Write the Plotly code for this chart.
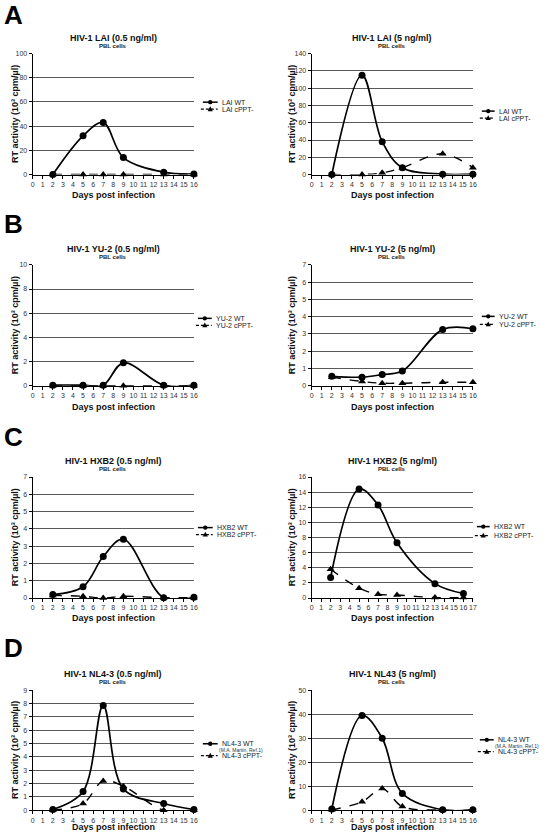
import plotly.graph_objects as go

# ---------------- data ----------------
days = [2, 5, 7, 9, 13, 16]

lai05_wt = [0, 32, 43, 14, 2, 0.5]
lai05_cppt = [0, 0, 0, 0, 0, 0]
lai5_wt = [0, 115, 38, 8, 0.5, 0.5]
lai5_cppt = [0, 0, 2, 8, 24, 8]
yu05_wt = [0.05, 0.05, 0.05, 1.9, 0.05, 0.05]
yu05_cppt = [0, 0, 0, 0, 0, 0]
yu5_wt = [0.55, 0.5, 0.65, 0.85, 3.25, 3.3]
yu5_cppt = [0.5, 0.25, 0.15, 0.15, 0.2, 0.2]
hxb05_wt = [0.2, 0.65, 2.4, 3.4, 0.02, 0.05]
hxb05_cppt = [0.15, 0.1, 0.0, 0.1, 0.02, 0.02]
hxb5_wt = [2.7, 14.4, 12.3, 7.3, 1.9, 0.6]
hxb5_cppt = [3.8, 1.3, 0.5, 0.4, 0.05, 0.05]
nl05_wt = [0.05, 1.4, 7.85, 1.6, 0.5, 0.05]
nl05_cppt = [0, 0.5, 2.2, 1.8, 0, 0]
nl5_wt = [0.5, 39.5, 30, 7, 0.2, 0.2]
nl5_cppt = [0.2, 3.5, 9, 1.5, 0, 0]

titles = ["HIV-1 LAI (0.5 ng/ml)", "HIV-1 LAI (5 ng/ml)",
          "HIV-1 YU-2 (0.5 ng/ml)", "HIV-1 YU-2 (5 ng/ml)",
          "HIV-1 HXB2 (0.5 ng/ml)", "HIV-1 HXB2 (5 ng/ml)",
          "HIV-1 NL4-3 (0.5 ng/ml)", "HIV-1 NL43 (5 ng/ml)"]
subtitle = "PBL cells"
x_title = "Days post infection"
y_title = "RT activity (10³ cpm/µl)"
wt_names = ["LAI WT", "LAI WT", "YU-2 WT", "YU-2 WT", "HXB2 WT", "HXB2 WT",
            "NL4-3 WT", "NL4-3 WT"]
wt_notes = ["", "", "", "", "", "", "(M.A. Martin, Ref.1)", "(M.A. Martin, Ref.1)"]
cppt_names = ["LAI cPPT-", "LAI cPPT-", "YU-2 cPPT-", "YU-2 cPPT-",
              "HXB2 cPPT-", "HXB2 cPPT-", "NL4-3 cPPT-", "NL4-3 cPPT-"]
wt_series = [lai05_wt, lai5_wt, yu05_wt, yu5_wt, hxb05_wt, hxb5_wt, nl05_wt, nl5_wt]
cppt_series = [lai05_cppt, lai5_cppt, yu05_cppt, yu5_cppt, hxb05_cppt, hxb5_cppt,
               nl05_cppt, nl5_cppt]
y_max = [100, 140, 10, 7, 7, 16, 9, 50]
y_step = [20, 20, 2, 1, 1, 2, 1, 10]
x_max = [16, 16, 16, 16, 16, 17, 16, 16]
panel_letters = ["A", "B", "C", "D"]

# ---------------- layout geometry (pixels) ----------------
W, H = 560, 839
FONT = "Arial, Liberation Sans, sans-serif"
cols = [(31, 194), (313, 476)]
rows = [(50, 172), (263, 385), (477, 599), (692, 813)]
xtitle_gap = [21, 21, 20, 17]
ytitle_x = [13, 293]
letter_y = [11, 222, 437, 649]
# legend: line x0, line x1, text x, row y (wt), row y (note), row y (cppt)
legend_pos = [
    (203, 218, 220, 99, None, 106),
    (485, 498, 500, 108, None, 115),
    (198, 212, 214, 317, None, 324),
    (485, 498, 500, 315, None, 323),
    (198, 213, 215, 528, None, 535),
    (480, 493, 495, 527, None, 536),
    (203, 218, 220, 746, 752, 758),
    (483, 497, 499, 742, 748, 754),
]


def fx(p):
    return p / W


def fy(p):
    return 1 - p / H


fig = go.Figure()
layout = dict(
    width=W, height=H, autosize=False,
    margin=dict(l=0, r=0, t=0, b=0),
    paper_bgcolor="white", plot_bgcolor="white",
    showlegend=False,
    font=dict(family=FONT, color="#222"),
)
annotations = []
shapes = []


def note(text, x, y, size, color="#222", xanchor="center", angle=0):
    annotations.append(dict(text=text, x=x, y=y, xref="paper", yref="paper",
                            showarrow=False, xanchor=xanchor, yanchor="middle",
                            textangle=angle,
                            font=dict(size=size, color=color, family=FONT)))


for i in range(8):
    r, c = divmod(i, 2)
    xa = "x" if i == 0 else f"x{i+1}"
    ya = "y" if i == 0 else f"y{i+1}"
    xkey = "xaxis" if i == 0 else f"xaxis{i+1}"
    ykey = "yaxis" if i == 0 else f"yaxis{i+1}"
    x0, x1 = cols[c]
    top, bot = rows[r]

    fig.add_trace(go.Scatter(
        x=days, y=wt_series[i], xaxis=xa, yaxis=ya, mode="lines+markers",
        name=wt_names[i], line=dict(color="black", width=1.7, shape="spline"),
        marker=dict(symbol="circle", size=7, color="black"), cliponaxis=False))
    fig.add_trace(go.Scatter(
        x=days, y=cppt_series[i], xaxis=xa, yaxis=ya, mode="lines+markers",
        name=cppt_names[i],
        line=dict(color="black", width=1.4, dash="dash", shape="spline"),
        marker=dict(symbol="triangle-up", size=7, color="black"), cliponaxis=False))

    layout[xkey] = dict(
        domain=[fx(x0), fx(x1)], anchor=ya, range=[0, x_max[i]],
        tick0=0, dtick=1, tickangle=0, ticks="outside", ticklen=3, tickwidth=1,
        tickcolor="black", showline=True, linecolor="black", linewidth=1,
        showgrid=False, zeroline=False,
        tickfont=dict(size=7, color="#333", family=FONT),
    )
    layout[ykey] = dict(
        domain=[fy(bot), fy(top)], anchor=xa, range=[0, y_max[i]],
        tick0=0, dtick=y_step[i], ticks="outside", ticklen=3, tickwidth=1,
        tickcolor="black", showline=True, linecolor="black", linewidth=1,
        showgrid=True, gridcolor="#5a5a5a", gridwidth=1, zeroline=False,
        tickfont=dict(size=7, color="#333", family=FONT),
    )

    cx = (x0 + x1) / 2
    note(f"<b>{titles[i]}</b>", fx(cx), fy(top - 16), 9, "#111")
    note(f"<b>{subtitle}</b>", fx(cx), fy(top - 8), 6, "#222")
    note(f"<b>{x_title}</b>", fx(cx), fy(bot + xtitle_gap[r]), 9, "#111")
    note(f"<b>{y_title}</b>", fx(ytitle_x[c]), fy((top + bot) / 2), 9, "#111", angle=-90)

    # manual legend
    lx0, lx1, tx, yw, yn, yc = legend_pos[i]
    mx = (lx0 + lx1) / 2
    shapes.append(dict(type="line", xref="paper", yref="paper",
                       x0=fx(lx0), x1=fx(lx1), y0=fy(yw), y1=fy(yw),
                       line=dict(color="black", width=1.5)))
    rad = 2.2
    shapes.append(dict(type="circle", xref="paper", yref="paper",
                       x0=fx(mx - rad), x1=fx(mx + rad), y0=fy(yw + rad), y1=fy(yw - rad),
                       fillcolor="black", line=dict(color="black", width=0)))
    shapes.append(dict(type="line", xref="paper", yref="paper",
                       x0=fx(lx0 - 2), x1=fx(lx1), y0=fy(yc), y1=fy(yc),
                       line=dict(color="black", width=1.2, dash="3px,2px")))
    t = 2.6
    shapes.append(dict(type="path", xref="paper", yref="paper",
                       path=(f"M {fx(mx - t)},{fy(yc + t * 0.8)} "
                             f"L {fx(mx + t)},{fy(yc + t * 0.8)} "
                             f"L {fx(mx)},{fy(yc - t * 1.1)} Z"),
                       fillcolor="black", line=dict(color="black", width=0)))
    note(wt_names[i], fx(tx), fy(yw), 7, "#222", xanchor="left")
    if yn is not None and wt_notes[i]:
        note(wt_notes[i], fx(tx - 3), fy(yn), 5, "#333", xanchor="left")
    note(cppt_names[i], fx(tx), fy(yc), 7, "#222", xanchor="left")

for k, letter in enumerate(panel_letters):
    note(f"<b>{letter}</b>", 0, fy(letter_y[k]), 26, "black", xanchor="left")

layout["annotations"] = annotations
layout["shapes"] = shapes
fig.update_layout(**layout)
fig.write_html(
    "out.html",
    config={"displayModeBar": False},
    post_script="document.body.style.margin='0';document.body.style.overflow='hidden';",
)
